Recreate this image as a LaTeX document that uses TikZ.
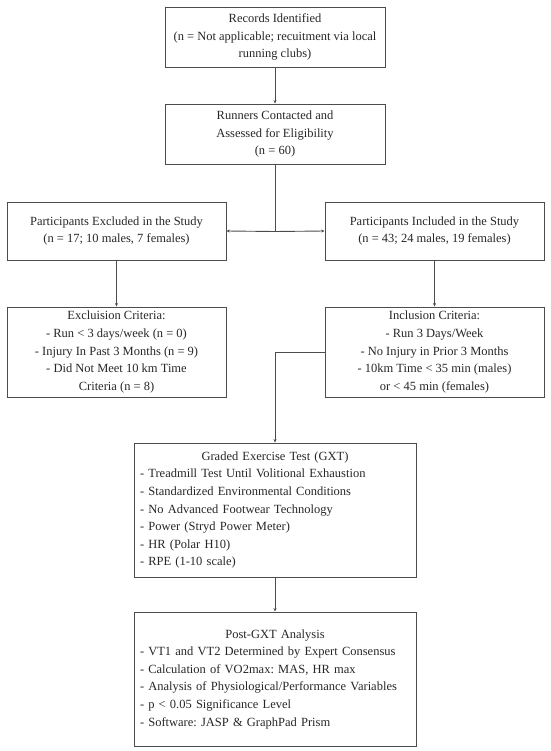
\documentclass[tikz,border=0pt]{standalone}
\usepackage{fontspec}
\setmainfont{Liberation Serif}
\usetikzlibrary{arrows.meta}
\frenchspacing
\begin{document}
\begin{tikzpicture}[x=1pt,y=-1pt,
  box/.style={draw=black!70,line width=0.9pt,rectangle,inner sep=0pt,align=center,
    font=\fontsize{12.5}{17.6}\selectfont\frenchspacing,text=black!85},
  conn/.style={draw=black!70,line width=0.9pt},
  arr/.style={conn,-{Stealth[length=3.5pt,width=3pt]}}]
\useasboundingbox (0,0) rectangle (550,751);
\node[box,minimum width=220pt,minimum height=60pt] (rec) at (275,37)
  {Records Identified\\(n = Not applicable; recuitment via local\\running clubs)};
\node[box,minimum width=220pt,minimum height=60pt] (run) at (275,134)
  {Runners Contacted and\\Assessed for Eligibility\\(n = 60)};
\node[box,minimum width=219pt,minimum height=58pt] (exc) at (116.5,231)
  {Participants Excluded in the Study\\(n = 17; 10 males, 7 females)};
\node[box,minimum width=219pt,minimum height=58pt] (inc) at (434.5,231)
  {Participants Included in the Study\\(n = 43; 24 males, 19 females)};
\node[box,minimum width=219pt,minimum height=90pt] (excc) at (116.5,352)
  {Excluision Criteria:\\- Run < 3 days/week (n = 0)\\- Injury In Past 3 Months (n = 9)\\- Did Not Meet 10 km Time\\Criteria (n = 8)};
\node[box,minimum width=219pt,minimum height=90pt] (incc) at (434.5,352)
  {Inclusion Criteria:\\- Run 3 Days/Week\\- No Injury in Prior 3 Months\\- 10km Time < 35 min (males)\\or < 45 min (females)};
\node[box,minimum width=282pt,minimum height=134pt,text width=270pt,align=left] (gxt) at (275,510)
  {\makebox[270pt]{Graded Exercise Test (GXT)}\\- Treadmill Test Until Volitional Exhaustion\\- Standardized Environmental Conditions\\- No Advanced Footwear Technology\\- Power (Stryd Power Meter)\\- HR (Polar H10)\\- RPE (1-10 scale)};
\node[box,minimum width=282pt,minimum height=134pt,text width=270pt,align=left] (post) at (275,679)
  {\makebox[270pt]{Post-GXT Analysis}\\- VT1 and VT2 Determined by Expert Consensus\\- Calculation of VO2max: MAS, HR max\\- Analysis of Physiological/Performance Variables\\- p < 0.05 Significance Level\\- Software: JASP \& GraphPad Prism};
\coordinate (split) at (275,231.5);
\coordinate (bend) at (275,352);
\draw[arr] (rec) -- (run);
\draw[conn] (run.south) -- (split);
\draw[arr] (split) -- (exc.east);
\draw[arr] (split) -- (inc.west);
\draw[arr] (exc) -- (excc);
\draw[arr] (inc) -- (incc);
\draw[arr] (incc.west) -- (bend) -- (gxt.north);
\draw[arr] (gxt) -- (post);
\end{tikzpicture}
\end{document}
